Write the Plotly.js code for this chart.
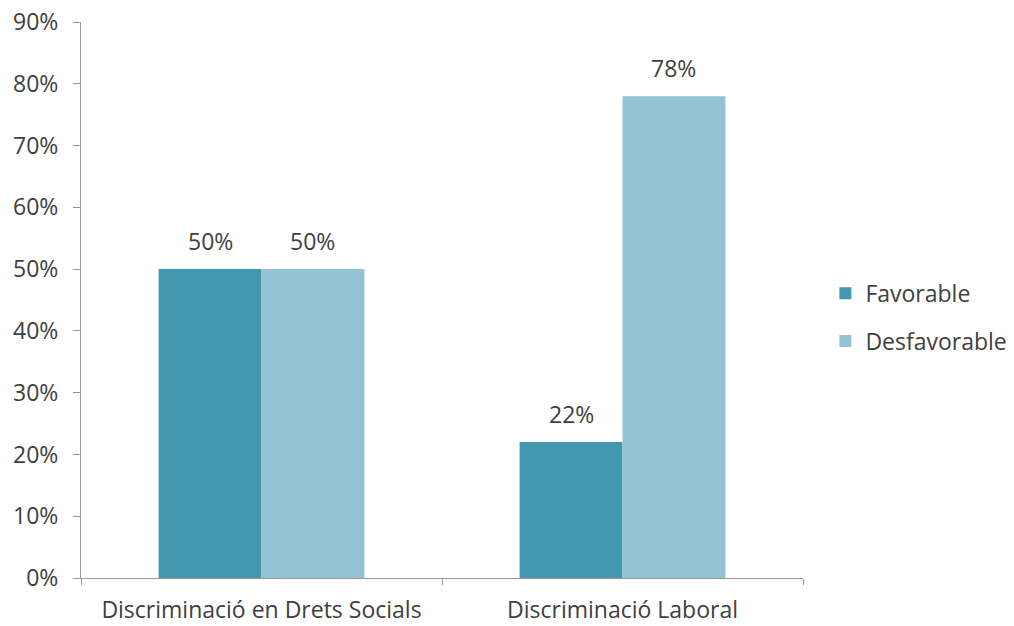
<!DOCTYPE html>
<html><head><meta charset="utf-8">
<script src="https://cdn.plot.ly/plotly-3.0.1.min.js"></script>
<style>html,body{margin:0;padding:0;background:#fff}#chart{width:1014px;height:626px}</style>
</head><body><div id="chart"></div>
<script>
const categories = ["Discriminació en Drets Socials", "Discriminació Laboral"];
const seriesNames = ["Favorable", "Desfavorable"];
const favorable = [0.50, 0.22];
const desfavorable = [0.50, 0.78];
const yTickVals = [0, 0.1, 0.2, 0.3, 0.4, 0.5, 0.6, 0.7, 0.8, 0.9];
const yTickText = ["0%", "10%", "20%", "30%", "40%", "50%", "60%", "70%", "80%", "90%"];

const font = "Open Sans, Noto Sans, sans-serif";
const txtColor = "#404040";
const fs = 23;
const bargap = 0.43;
const halfBar = (1 - bargap) / 4;

function mk(name, vals, color, grp) {
  return {
    type: "bar", name: name, x: categories, y: vals,
    marker: {color: color, line: {width: 0}},
    legendgroup: grp, hoverinfo: "skip"
  };
}
const data = [
  mk(seriesNames[0], favorable, "#4398B0", "a"),
  mk(seriesNames[1], desfavorable, "#93C3D5", "b")
];
const annotations = [];
[favorable, desfavorable].forEach((vals, s) => {
  vals.forEach((v, i) => {
    annotations.push({
      x: i + (s === 0 ? -halfBar : halfBar), y: v, xref: "x", yref: "y",
      text: Math.round(v * 100) + "%", showarrow: false,
      yanchor: "bottom", yshift: 10,
      font: {family: font, size: fs, color: txtColor}
    });
  });
});
const layout = {
  width: 1014, height: 626,
  margin: {l: 81, r: 211, t: 22, b: 48, autoexpand: false},
  paper_bgcolor: "#fff", plot_bgcolor: "#fff",
  barmode: "group", bargap: bargap, bargroupgap: 0,
  font: {family: font, size: fs, color: txtColor},
  showlegend: true,
  annotations: annotations,
  legend: {x: 1.031, y: 0.469, xanchor: "left", yanchor: "middle",
    font: {family: font, size: fs, color: txtColor},
    tracegroupgap: 15, traceorder: "grouped", itemclick: false},
  xaxis: {type: "category", tickson: "boundaries", ticks: "outside", ticklen: 6,
    tickcolor: "#999", showline: true, linecolor: "#999", linewidth: 1,
    showgrid: false, zeroline: false, ticklabelstandoff: 11,
    tickfont: {family: font, size: fs, color: txtColor}},
  yaxis: {range: [0, 0.9], tickvals: yTickVals, ticktext: yTickText,
    ticks: "outside", ticklen: 7, tickcolor: "#999",
    showline: true, linecolor: "#999", linewidth: 1,
    showgrid: false, zeroline: false, ticklabelstandoff: 10,
    tickfont: {family: font, size: fs, color: txtColor}}
};
Plotly.newPlot("chart", data, layout, {staticPlot: true, displayModeBar: false});
</script></body></html>
